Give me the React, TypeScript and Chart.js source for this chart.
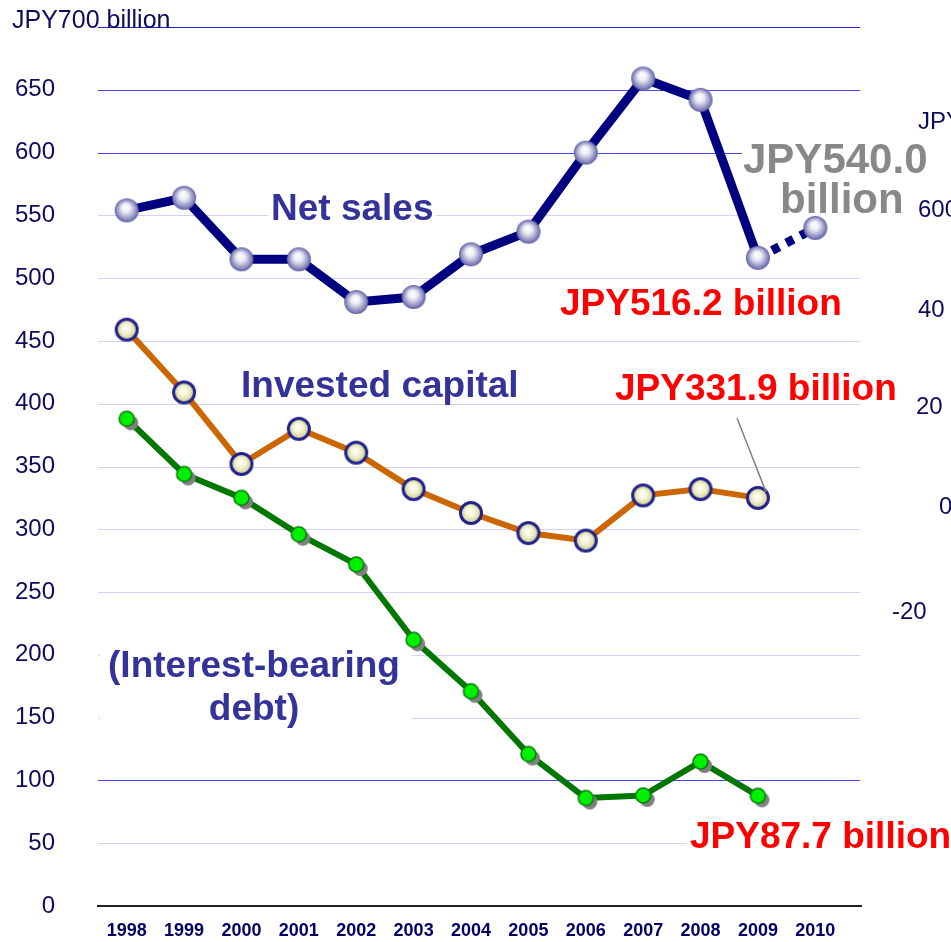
import React, { useEffect, useRef } from "react";
import { Chart, registerables } from "chart.js";

Chart.register(...registerables);

const years = ["1998", "1999", "2000", "2001", "2002", "2003", "2004", "2005", "2006", "2007", "2008", "2009", "2010"];
const netSales = [554, 564, 515, 515, 481, 485, 519, 537, 600, 659, 642, 516.2, 540.0];
const investedCapital = [459, 409, 352, 380, 361, 332, 313, 297, 291, 327, 332, 325, null];
const interestBearingDebt = [388, 344, 325, 296, 272, 212, 171, 121, 86, 88, 115, 87.7, null];
const strongGridValues = [700, 650, 600, 100];
const rightAxisLabels = ["JPY", "600", "40", "20", "0", "-20"];

const FONT = '"Liberation Sans", Arial, Helvetica, sans-serif';

function makeSphere(r: number): HTMLCanvasElement {
  const c = document.createElement("canvas");
  const s = r * 2 + 2;
  c.width = s;
  c.height = s;
  const ctx = c.getContext("2d")!;
  const cx = s / 2;
  const cy = s / 2;
  const g = ctx.createRadialGradient(cx - r * 0.1, cy - r * 0.3, 0, cx, cy, r);
  g.addColorStop(0, "#ffffff");
  g.addColorStop(0.35, "#eeeef6");
  g.addColorStop(0.8, "#9090c4");
  g.addColorStop(1, "#5c5ca0");
  ctx.fillStyle = g;
  ctx.beginPath();
  ctx.arc(cx, cy, r, 0, Math.PI * 2);
  ctx.fill();
  return c;
}

function makeYellow(r: number): HTMLCanvasElement {
  const c = document.createElement("canvas");
  const s = r * 2 + 2;
  c.width = s;
  c.height = s;
  const ctx = c.getContext("2d")!;
  const cx = s / 2;
  const cy = s / 2;
  const inner = r - 1.5;
  const g = ctx.createRadialGradient(cx - 1, cy - 2, 0, cx, cy, inner);
  g.addColorStop(0, "#ffffff");
  g.addColorStop(0.45, "#f4f4d6");
  g.addColorStop(1, "#c9c98a");
  ctx.fillStyle = g;
  ctx.beginPath();
  ctx.arc(cx, cy, inner, 0, Math.PI * 2);
  ctx.fill();
  ctx.lineWidth = 3;
  ctx.strokeStyle = "#23238c";
  ctx.stroke();
  return c;
}

function makeGreen(r: number): HTMLCanvasElement {
  const c = document.createElement("canvas");
  const s = r * 2 + 14;
  c.width = s;
  c.height = s;
  const ctx = c.getContext("2d")!;
  const cx = s / 2;
  const cy = s / 2;
  ctx.fillStyle = "#808080";
  ctx.beginPath();
  ctx.arc(cx + 4, cy + 4, r, 0, Math.PI * 2);
  ctx.fill();
  ctx.fillStyle = "#00ee00";
  ctx.strokeStyle = "#0a7a0a";
  ctx.lineWidth = 1.5;
  ctx.beginPath();
  ctx.arc(cx, cy, r, 0, Math.PI * 2);
  ctx.fill();
  ctx.stroke();
  return c;
}

const decorPlugin = {
  id: "decor",
  beforeDatasetsDraw(chart: any) {
    const ctx: CanvasRenderingContext2D = chart.ctx;
    const area = chart.chartArea;
    const y = chart.scales.y;
    ctx.save();
    for (let v = 50; v <= 700; v += 50) {
      const py = Math.round(y.getPixelForValue(v)) + 0.5;
      ctx.beginPath();
      ctx.lineWidth = 1.2;
      ctx.strokeStyle = v === 700 ? "#2424c8" : strongGridValues.includes(v) ? "#4848ee" : "#d2d2f8";
      ctx.moveTo(area.left, py);
      ctx.lineTo(area.right + 16, py);
      ctx.stroke();
    }
    const p0 = y.getPixelForValue(0);
    ctx.beginPath();
    ctx.lineWidth = 2;
    ctx.strokeStyle = "#222222";
    ctx.moveTo(area.left - 1, p0);
    ctx.lineTo(area.right + 18, p0);
    ctx.stroke();

    // white backgrounds of the text boxes
    ctx.fillStyle = "#ffffff";
    ctx.fillRect(268, 186, 168, 38);
    ctx.fillRect(100, 636, 312, 92);
    ctx.fillRect(742, 136, 200, 88);
    ctx.fillRect(686, 814, 265, 40);
    ctx.restore();
  },
  afterDatasetsDraw(chart: any) {
    const ctx: CanvasRenderingContext2D = chart.ctx;
    ctx.save();
    ctx.textBaseline = "alphabetic";
    ctx.textAlign = "left";

    // top-left unit label
    ctx.fillStyle = "#0c0c5c";
    ctx.font = `25px ${FONT}`;
    ctx.fillText("JPY700 billion", 12, 28);

    // series labels
    ctx.fillStyle = "#333399";
    ctx.font = `bold 37px ${FONT}`;
    ctx.fillText("Net sales", 271, 220);
    ctx.fillText("Invested capital", 241, 397);
    ctx.textAlign = "center";
    ctx.fillText("(Interest-bearing", 254, 677);
    ctx.fillText("debt)", 254, 720);
    ctx.textAlign = "left";

    // red annotations
    ctx.fillStyle = "#ff0000";
    ctx.fillText("JPY516.2 billion", 560, 315);
    ctx.fillText("JPY331.9 billion", 615, 400);
    ctx.fillText("JPY87.7 billion", 690, 848);

    // forecast label
    ctx.fillStyle = "#888888";
    ctx.font = `bold 42px ${FONT}`;
    ctx.fillText("JPY540.0", 743, 173);
    ctx.fillText("billion", 780, 213);

    // leader line to invested capital 2009
    const pt = chart.getDatasetMeta(1).data[11];
    if (pt) {
      ctx.beginPath();
      ctx.strokeStyle = "#808080";
      ctx.lineWidth = 1.5;
      ctx.moveTo(737, 418);
      ctx.lineTo(pt.x + 8, pt.y - 6);
      ctx.stroke();
    }

    // partial axis of the neighbouring chart
    ctx.fillStyle = "#0c0c5c";
    ctx.font = `24px ${FONT}`;
    const rx = [918, 918, 918, 916, 939, 892];
    const ry = [129, 217, 317, 414, 514, 619];
    rightAxisLabels.forEach((t, i) => ctx.fillText(t, rx[i], ry[i]));
    ctx.restore();
  },
};

export default function App() {
  const ref = useRef<HTMLCanvasElement | null>(null);

  useEffect(() => {
    if (!ref.current) return;
    const chart = new Chart(ref.current, {
      type: "line",
      data: {
        labels: years,
        datasets: [
          {
            label: "Net sales",
            data: netSales,
            borderColor: "#000080",
            borderWidth: 9,
            borderJoinStyle: "round",
            borderCapStyle: "round",
            pointStyle: makeSphere(12) as any,
            segment: {
              borderDash: (c: any) => (c.p1DataIndex === 12 ? [8, 8] : undefined),
              borderCapStyle: (c: any) => (c.p1DataIndex === 12 ? "butt" : undefined),
            } as any,
            tension: 0,
          },
          {
            label: "Invested capital",
            data: investedCapital,
            borderColor: "#cc6600",
            borderWidth: 6,
            borderJoinStyle: "round",
            pointStyle: makeYellow(12) as any,
            tension: 0,
          },
          {
            label: "Interest-bearing debt",
            data: interestBearingDebt,
            borderColor: "#007700",
            borderWidth: 6,
            borderJoinStyle: "round",
            pointStyle: makeGreen(7.5) as any,
            tension: 0,
          },
        ],
      },
      options: {
        animation: false,
        responsive: false,
        maintainAspectRatio: false,
        layout: { padding: { top: 27, right: 107, bottom: 0, left: 0 } },
        plugins: {
          legend: { display: false },
          tooltip: { enabled: false },
        },
        scales: {
          x: {
            offset: true,
            grid: { display: false, drawTicks: false },
            border: { display: false },
            ticks: {
              color: "#000066",
              font: { family: FONT, size: 18, weight: "bold" },
              padding: 14,
              maxRotation: 0,
              autoSkip: false,
            },
            afterFit: (s: any) => {
              s.height = 36;
              s.paddingLeft = 0;
              s.paddingRight = 0;
            },
          },
          y: {
            min: 0,
            max: 700,
            grid: { display: false, drawTicks: false },
            border: { display: false },
            ticks: {
              stepSize: 50,
              padding: 43,
              color: "#0c0c5c",
              font: { family: FONT, size: 24 },
              callback: (v: any) => (Number(v) === 700 ? "" : String(v)),
            },
            afterFit: (s: any) => {
              s.width = 98;
              s.paddingTop = 0;
              s.paddingBottom = 0;
            },
          },
        },
      },
      plugins: [decorPlugin],
    });
    return () => chart.destroy();
  }, []);

  return (
    <div style={{ position: "absolute", left: 0, top: 0, width: 951, height: 942, overflow: "hidden", background: "#ffffff" }}>
      <canvas ref={ref} width={951} height={942} style={{ width: 951, height: 942, display: "block" }} />
    </div>
  );
}
